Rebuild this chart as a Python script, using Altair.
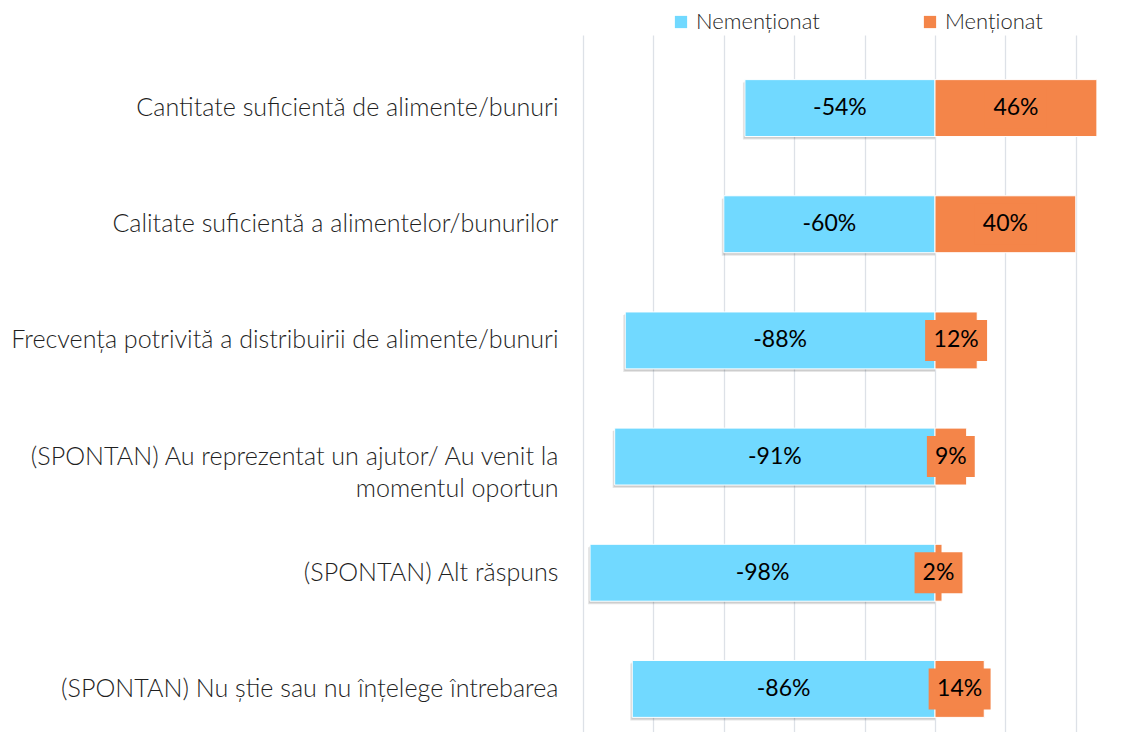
import altair as alt
import pandas as pd

categories = [
    "Cantitate suficientă de alimente/bunuri",
    "Calitate suficientă a alimentelor/bunurilor",
    "Frecvența potrivită a distribuirii de alimente/bunuri",
    "(SPONTAN) Au reprezentat un ajutor/ Au venit la|momentul oportun",
    "(SPONTAN) Alt răspuns",
    "(SPONTAN) Nu știe sau nu înțelege întrebarea",
]
nementionat = [-54, -60, -88, -91, -98, -86]
mentionat = [46, 40, 12, 9, 2, 14]
series = ["Nemenționat", "Menționat"]
colors = ["#71D9FF", "#F48549"]
grid_values = [-100, -80, -60, -40, -20, 0, 20, 40]

rows = []
for c, a, b in zip(categories, nementionat, mentionat):
    rows.append({"cat": c, "series": series[0], "value": a})
    rows.append({"cat": c, "series": series[1], "value": b})
df = pd.DataFrame(rows)

FONT = "Lato"

base = alt.Chart(df).transform_calculate(
    zero="0",
    mid="datum.value / 2",
    label="toString(datum.value) + '%'",
)

y_enc = alt.Y(
    "cat:N",
    sort=categories,
    scale=alt.Scale(paddingInner=0.51, paddingOuter=0.255, range=[0, 697]),
    axis=alt.Axis(
        title=None,
        domain=False,
        ticks=False,
        labelExpr="split(datum.label, '|')",
        labelFontSize=25.1,
        labelFont=FONT,
        labelFontWeight=300,
        labelColor="#1F1F1F",
        labelPadding=25,
        labelLimit=700,
        labelLineHeight=32,
    ),
)

x_scale = alt.Scale(domain=[-100, 53.7], nice=False, zero=False)
x_axis = alt.Axis(
    title=None,
    values=grid_values,
    labels=False,
    ticks=False,
    domain=False,
    grid=True,
    gridColor="#DDE1E7",
    gridWidth=1.3,
)


def xq(field):
    return alt.X(field, type="quantitative", scale=x_scale, axis=x_axis)


color_enc = alt.Color(
    "series:N",
    scale=alt.Scale(domain=series, range=colors),
    legend=alt.Legend(
        title=None,
        orient="none",
        legendX=87,
        legendY=-39,
        direction="horizontal",
        symbolType="square",
        symbolSize=150,
        symbolStrokeWidth=0,
        labelFontSize=22,
        labelFont=FONT,
        labelFontWeight=300,
        labelColor="#262626",
        labelOffset=4,
        columnPadding=99,
    ),
)

shadow1 = base.transform_filter(alt.datum.series == series[0]).mark_bar(
    color="#000000", opacity=0.10, xOffset=-2, yOffset=3
).encode(y=y_enc, x=xq("value"), x2="zero:Q")
shadow2 = base.transform_filter(alt.datum.series == series[0]).mark_bar(
    color="#000000", opacity=0.10, xOffset=-1, yOffset=2
).encode(y=y_enc, x=xq("value"), x2="zero:Q")

bars = base.mark_bar(stroke="white", strokeWidth=1).encode(
    y=y_enc,
    x=xq("value"),
    x2="zero:Q",
    color=color_enc,
)

boxes = base.transform_filter(alt.datum.series == series[1]).transform_calculate(
    half="length(datum.label) >= 3 ? 8.8 : 6.8",
).transform_calculate(
    bl="datum.mid - datum.half",
    br="datum.mid + datum.half",
).mark_bar(color=colors[1], size=41).encode(
    y=y_enc,
    x=xq("bl"),
    x2="br:Q",
)

labels = base.mark_text(
    font=FONT, fontSize=23, fontWeight="normal", color="#000000", baseline="middle"
).encode(
    y=y_enc,
    x=xq("mid"),
    text="label:N",
)

chart = alt.layer(shadow1, shadow2, bars, boxes, labels).properties(
    width=541,
    height=682,
    autosize=alt.AutoSizeParams(type="none"),
    padding={"left": 575, "top": 42, "right": 0, "bottom": 0},
).configure(background="white").configure_view(strokeWidth=0)

chart.save("out.html", embed_options={"renderer": "svg", "actions": False})
